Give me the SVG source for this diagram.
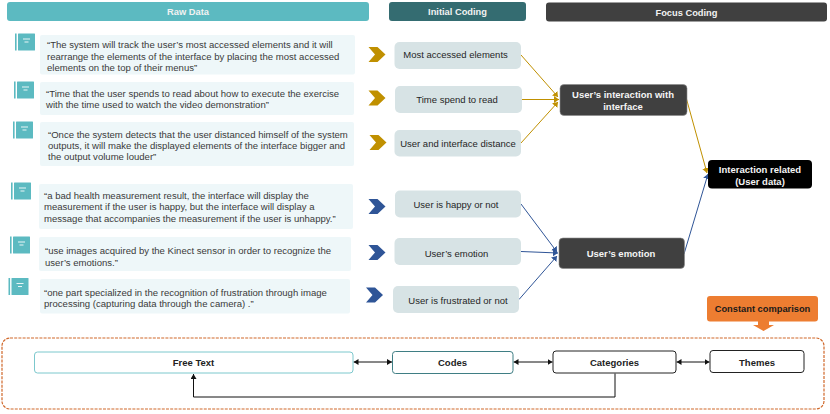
<svg xmlns="http://www.w3.org/2000/svg" width="830" height="414" viewBox="0 0 830 414">
<style>
text{font-family:"Liberation Sans",Arial,sans-serif}
.h{font-size:9.3px;font-weight:bold;fill:#f2f2f2;text-anchor:middle}
.q{font-size:9.55px;fill:#3a3a3a}
.box{fill:#eef7f9}
.ic{fill:#5cbac1}
.icl{stroke:#e8f5f6;stroke-width:1;fill:none}
.code{fill:#d7e3e5}
.ct{font-size:9.5px;fill:#262626;text-anchor:middle}
.dk{fill:#404040;stroke:#8a8a8a;stroke-width:.6}
.w{font-size:9.5px;font-weight:bold;fill:#f5f5f5;text-anchor:middle}
.b{font-size:9.5px;font-weight:bold;fill:#222;text-anchor:middle}
.g{fill:#c09000}
.bl{fill:#2f5597}
.cg{stroke:#c09000;stroke-width:1;fill:none;marker-end:url(#ag)}
.cb{stroke:#2f5597;stroke-width:1;fill:none;marker-end:url(#ab)}
.ck{stroke:#111;stroke-width:1;fill:none;marker-end:url(#ak)}
.cd{stroke:#111;stroke-width:1;fill:none;marker-start:url(#aks);marker-end:url(#ak)}
</style>
<defs>
<marker id="ag" markerUnits="userSpaceOnUse" markerWidth="6" markerHeight="8" refX="5" refY="4" orient="auto"><path d="M0 0.500L5 4L0 7.500z" fill="#c09000"/></marker>
<marker id="ab" markerUnits="userSpaceOnUse" markerWidth="6" markerHeight="8" refX="5" refY="4" orient="auto"><path d="M0 0.500L5 4L0 7.500z" fill="#2f5597"/></marker>
<marker id="ak" markerUnits="userSpaceOnUse" markerWidth="6" markerHeight="6" refX="5" refY="3" orient="auto"><path d="M0 0L5 3L0 6z" fill="#111"/></marker>
<marker id="aks" markerUnits="userSpaceOnUse" markerWidth="6" markerHeight="6" refX="0" refY="3" orient="auto"><path d="M5 0L0 3L5 6z" fill="#111"/></marker>
<g id="doc"><rect x="0" y="0" width="1.600" height="17" class="ic"/><rect x="3" y="0" width="17" height="17" rx=".5" class="ic"/><path d="M8 5.500H15M9.500 8.500H13.500" class="icl"/></g>
<path id="chev" d="M0 0H9L17 7.500L9 15H0L6.500 7.500z"/>
</defs>

<g id="header-raw"><rect x="7" y="2" width="362" height="19" rx="3" fill="#5cbac1"/><text class="h" x="188" y="15">Raw Data</text></g>
<g id="header-initial"><rect x="389" y="2" width="137" height="19" rx="3" fill="#346c71"/><text class="h" x="457.500" y="15">Initial Coding</text></g>
<g id="header-focus"><rect x="546" y="2.500" width="281" height="19" rx="3" fill="#404040"/><text class="h" x="686.500" y="15.500">Focus Coding</text></g>

<g id="connectors">
<path class="cg" d="M521 55L558 97"/>
<path class="cg" d="M522 99.500H559"/>
<path class="cg" d="M521 143L558 102"/>
<path class="cb" d="M521 204L557 252"/>
<path class="cb" d="M521 251.500L558 253"/>
<path class="cb" d="M519 299.500L557 256"/>
<path class="cg" d="M686.500 99L707 173"/>
<path class="cb" d="M684 254L708 174"/>
<path class="cd" d="M353.500 362H392"/>
<path class="cd" d="M513.500 362H552.500"/>
<path class="cd" d="M676.500 362H709.500"/>
<path class="ck" d="M615 397V373.500M615 397H193.500V374"/>
</g>

<g id="raw1"><use href="#doc" x="15" y="33.500"/><rect class="box" x="40" y="35" width="315" height="39.500" rx="2"/>
<text class="q" x="47" y="48">“The system will track the user’s most accessed elements and it will</text>
<text class="q" x="47" y="59.500">rearrange the elements of the interface by placing the most accessed</text>
<text class="q" x="47" y="70.500">elements on the top of their menus”</text></g>
<g id="raw2"><use href="#doc" x="14" y="81.500"/><rect class="box" x="40" y="82" width="314" height="33" rx="2"/>
<text class="q" x="46" y="96.500">“Time that the user spends to read about how to execute the exercise</text>
<text class="q" x="46" y="108">with the time used to watch the video demonstration”</text></g>
<g id="raw3"><use href="#doc" x="13" y="121.500"/><rect class="box" x="40" y="122" width="314" height="44" rx="2"/>
<text class="q" x="48" y="137.500">“Once the system detects that the user distanced himself of the system</text>
<text class="q" x="48" y="149">outputs, it will make the displayed elements of the interface bigger and</text>
<text class="q" x="48" y="160">the output volume louder”</text></g>
<g id="raw4"><use href="#doc" x="11" y="182.500"/><rect class="box" x="39" y="184" width="314" height="45" rx="2"/>
<text class="q" x="44" y="199">“a bad health measurement result, the interface will display the</text>
<text class="q" x="44" y="210">measurement if the user is happy, but the interface will display a</text>
<text class="q" x="44" y="221.500">message that accompanies the measurement if the user is unhappy.”</text></g>
<g id="raw5"><use href="#doc" x="10" y="236.500"/><rect class="box" x="39" y="237" width="312" height="34" rx="2"/>
<text class="q" x="45" y="254">“use images acquired by the Kinect sensor in order to recognize the</text>
<text class="q" x="45" y="265.500">user’s emotions.”</text></g>
<g id="raw6"><use href="#doc" x="8.500" y="278"/><rect class="box" x="40" y="279" width="310" height="34.500" rx="2"/>
<text class="q" x="44" y="295.500">“one part specialized in the recognition of frustration through image</text>
<text class="q" x="44" y="306.500">processing (capturing data through the camera) .”</text></g>

<g id="chev1"><use href="#chev" class="g" x="368.500" y="47"/></g>
<g id="chev2"><use href="#chev" class="g" x="368.500" y="90.500"/></g>
<g id="chev3"><use href="#chev" class="g" x="369.500" y="135"/></g>
<g id="chev4"><use href="#chev" class="bl" x="368.500" y="199"/></g>
<g id="chev5"><use href="#chev" class="bl" x="368.500" y="245"/></g>
<g id="chev6"><use href="#chev" class="bl" x="366" y="287.500"/></g>

<g id="code1"><rect class="code" x="394.500" y="42" width="126.500" height="27" rx="5"/><text class="ct" x="455.500" y="58">Most accessed elements</text></g>
<g id="code2"><rect class="code" x="395" y="86" width="127" height="27" rx="5"/><text class="ct" x="457" y="103">Time spend to read</text></g>
<g id="code3"><rect class="code" x="394.500" y="130" width="126.500" height="26.500" rx="5"/><text class="ct" x="458" y="147">User and interface distance</text></g>
<g id="code4"><rect class="code" x="395" y="190.500" width="126" height="27" rx="5"/><text class="ct" x="456" y="208">User is happy or not</text></g>
<g id="code5"><rect class="code" x="394.500" y="238" width="126.500" height="27" rx="5"/><text class="ct" x="456.500" y="256.500">User’s emotion</text></g>
<g id="code6"><rect class="code" x="393" y="286" width="126" height="27" rx="5"/><text class="ct" x="458" y="304">User is frustrated or not</text></g>

<g id="focus1"><rect class="dk" x="560" y="84.500" width="127" height="31" rx="4"/><text class="w" x="623" y="98">User’s interaction with</text><text class="w" x="623" y="109.500">interface</text></g>
<g id="focus2"><rect class="dk" x="559" y="238" width="125.500" height="30.500" rx="4"/><text class="w" x="621" y="257">User’s emotion</text></g>
<g id="focus3"><rect x="708" y="160" width="104" height="28.500" rx="4" fill="#000"/><text class="w" x="760" y="173">Interaction related</text><text class="w" x="760" y="184.500">(User data)</text></g>

<g id="frame"><rect x="2" y="338" width="822" height="71" rx="8" fill="none" stroke="#d0682a" stroke-width="1.200" stroke-dasharray="3 1.200"/></g>
<g id="free-text"><rect x="34.500" y="352" width="318.500" height="21" rx="3" fill="#fff" stroke="#7cc8cd" stroke-width="1"/><text class="b" x="193.500" y="366">Free Text</text></g>
<g id="codes"><rect x="392.500" y="351.500" width="120.500" height="22" rx="3" fill="#fff" stroke="#3f7e84" stroke-width="1"/><text class="b" x="452.500" y="366">Codes</text></g>
<g id="categories"><rect x="553" y="351" width="123" height="22" rx="3" fill="#fff" stroke="#222" stroke-width="1"/><text class="b" x="614.500" y="366">Categories</text></g>
<g id="themes"><rect x="710" y="350.500" width="94" height="22" rx="3" fill="#fff" stroke="#222" stroke-width="1"/><text class="b" x="757" y="365.500">Themes</text></g>
<g id="constant"><path d="M710 296H815a3 3 0 0 1 3 3V318.500a3 3 0 0 1-3 3H769V325H774L763.500 331L753 325H758V321.500H710a3 3 0 0 1-3-3V299a3 3 0 0 1 3-3z" fill="#ed7d31"/><text x="762.500" y="312" font-size="9.300" font-weight="bold" fill="#1a1a1a" text-anchor="middle">Constant comparison</text></g>
</svg>
